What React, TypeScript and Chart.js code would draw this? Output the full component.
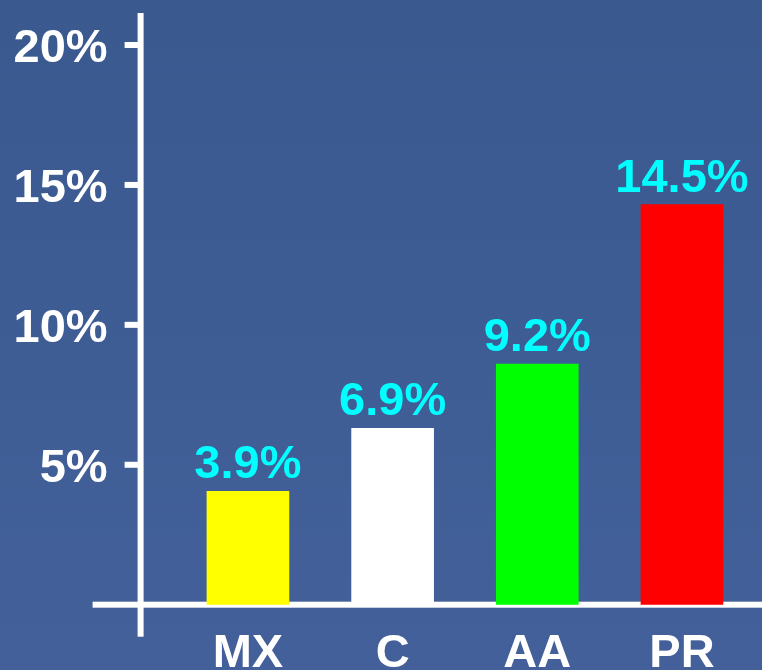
import React, { useEffect, useRef } from "react";
import { Chart, registerables } from "chart.js";

Chart.register(...registerables);

const categories = ["MX", "C", "AA", "PR"];
const barValues = [4.05, 6.3, 8.6, 14.3];
const valueLabels = ["3.9%", "6.9%", "9.2%", "14.5%"];
const barColors = ["#ffff00", "#ffffff", "#00ff00", "#ff0000"];
const yTicks = [5, 10, 15, 20];
const yTickLabels = ["5%", "10%", "15%", "20%"];

const FONT = 'bold 47px "Liberation Sans", Arial, sans-serif';

const deco = {
  id: "deco",
  beforeDraw(chart: any) {
    const { ctx, width, height } = chart;
    const g = ctx.createLinearGradient(0, 0, 0, height);
    g.addColorStop(0, "#3a598f");
    g.addColorStop(1, "#43609a");
    ctx.save();
    ctx.fillStyle = g;
    ctx.fillRect(0, 0, width, height);
    ctx.restore();
  },
  beforeDatasetsDraw(chart: any) {
    const { ctx, chartArea, scales } = chart;
    const x = scales.x;
    const y = scales.y;
    const y0 = y.getPixelForValue(0);
    const axisX = chartArea.left - 35;
    ctx.save();
    ctx.fillStyle = "#ffffff";
    ctx.fillRect(axisX - 3, 13, 6, y0 + 32 - 13);
    ctx.fillRect(axisX - 48, y0 - 3, chart.width - (axisX - 48), 6);
    yTicks.forEach((v) => {
      const py = y.getPixelForValue(v);
      ctx.fillRect(axisX - 16, py - 3, 16, 6);
    });
    ctx.font = FONT;
    ctx.textBaseline = "alphabetic";
    ctx.textAlign = "right";
    yTickLabels.forEach((t, i) => {
      ctx.fillText(t, axisX - 33, y.getPixelForValue(yTicks[i]) + 17);
    });
    ctx.textAlign = "center";
    categories.forEach((c, i) => {
      ctx.fillText(c, x.getPixelForValue(i), y0 + 62);
    });
    ctx.restore();
  },
  afterDatasetsDraw(chart: any) {
    const { ctx } = chart;
    const meta = chart.getDatasetMeta(0);
    ctx.save();
    ctx.font = FONT;
    ctx.fillStyle = "#00ffff";
    ctx.textAlign = "center";
    ctx.textBaseline = "alphabetic";
    meta.data.forEach((el: any, i: number) => {
      ctx.fillText(valueLabels[i], el.x, el.y - 13);
    });
    ctx.restore();
  },
};

export default function App() {
  const ref = useRef<HTMLCanvasElement>(null);
  useEffect(() => {
    if (!ref.current) return;
    const chart = new Chart(ref.current, {
      type: "bar",
      data: {
        labels: categories,
        datasets: [
          {
            data: barValues,
            backgroundColor: barColors,
            borderWidth: 0,
            barThickness: 82,
          },
        ],
      },
      options: {
        responsive: false,
        animation: false,
        layout: { padding: { left: 175.6, right: 7.7, top: 45, bottom: 65.3 } },
        plugins: { legend: { display: false }, tooltip: { enabled: false } },
        scales: {
          x: { display: false, offset: true, grid: { display: false } },
          y: { display: false, min: 0, max: 20, grid: { display: false } },
        },
      },
      plugins: [deco],
    });
    return () => chart.destroy();
  }, []);
  return (
    <div style={{ position: "absolute", left: 0, top: 0, width: 762, height: 670 }}>
      <canvas ref={ref} width={762} height={670} />
    </div>
  );
}
